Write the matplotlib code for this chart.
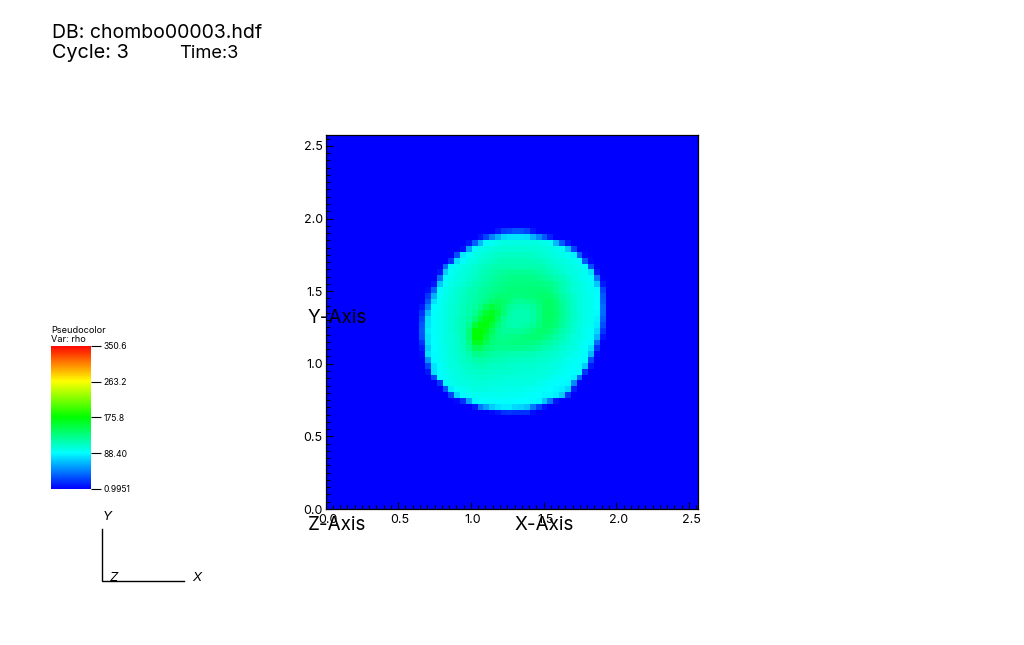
import numpy as np
import matplotlib
matplotlib.use("Agg")
import matplotlib.pyplot as plt
from matplotlib.colors import LinearSegmentedColormap
from matplotlib.ticker import AutoMinorLocator
from matplotlib.transforms import ScaledTranslation

W, H = 1024, 645
plt.rcParams['font.family'] = ['Inter', 'DejaVu Sans']

VMIN, VMAX = 0.9951, 350.6
CBAR_TICKS = [0.9951, 88.40, 175.8, 263.2, 350.6]
CBAR_LABELS = ['0.9951', '88.40', '175.8', '263.2', '350.6']
AXIS_TICKS = [0.0, 0.5, 1.0, 1.5, 2.0, 2.5]
AXIS_LABELS = ['0.0', '0.5', '1.0', '1.5', '2.0', '2.5']
X_MAX, Y_MAX = 2.562, 2.575
N_CELLS = 64
BACKGROUND = 1.0
DISC_START = 16

# rho, top row first, 32 x 32 cells around the disc
DISC = [
[1]*13+[10,22,25,30,30,25,8],
[1]*10+[8,25,45,62,76,80,80,80,78,62,48,32,12],
[1]*8+[8,35,65,88,93,96,98,98,98,98,98,98,98,96,93,65,32,10],
[1]*7+[7,58,88,96,99,102,103,104,104,104,104,104,104,103,102,99,96,93,68,25],
[1]*6+[28,82,90,97,100,104,106,108,109,109,109,109,109,108,106,104,102,99,96,93,85,35,5],
[1]*5+[20,78,90,97,100,104,107,110,112,113,113,113,113,113,112,111,109,106,103,100,97,94,90,32,5],
[1]*4+[38,86,93,98,102,105,109,112,115,116,117,117,117,117,117,116,115,113,110,106,103,100,97,94,88,28,3],
[1]*3+[8,72,92,97,100,104,107,111,115,118,121,123,125,125,125,125,123,121,118,114,110,105,102,98,96,93,80,10],
[1]*3+[38,88,95,98,102,106,110,114,118,121,124,127,129,130,130,130,129,127,125,121,116,111,105,100,96,93,88,42,3],
[1]*2+[8,70,92,97,100,104,108,113,117,121,124,127,130,132,133,133,133,133,133,132,129,123,116,110,104,100,96,92,70,10],
[1]+[6,35,88,95,99,104,108,113,117,121,124,127,130,133,134,134,134,134,135,136,136,133,125,117,110,103,100,96,93,88,25],
[1]+[20,62,92,96,101,105,110,114,118,122,126,131,136,137,135,133,133,134,136,138,140,138,131,121,113,105,101,97,94,89,32],
[1]+[30,78,92,97,102,106,111,115,119,124,131,140,143,140,133,127,125,126,130,135,141,143,136,125,115,107,102,97,94,89,35],
[8,45,88,94,98,103,107,112,116,122,132,145,154,148,137,125,120,118,119,123,132,141,143,137,126,116,107,102,97,94,89,38],
[18,65,90,95,99,103,107,112,118,128,143,160,165,153,134,121,117,115,117,121,130,141,144,138,127,117,108,102,97,94,88,38],
[25,78,90,95,99,103,108,113,121,136,156,170,168,146,126,118,116,116,117,121,130,141,143,137,126,116,107,101,97,93,85,35],
[30,80,90,95,99,103,108,114,127,158,170,172,156,136,123,118,117,118,120,125,133,141,141,134,123,114,106,100,96,93,82,28],
[32,82,90,94,98,103,108,115,134,172,176,166,146,130,123,123,123,125,128,133,138,139,135,127,118,111,104,99,95,92,75,20],
[30,80,90,94,98,102,107,114,136,174,175,156,138,130,127,129,131,133,135,137,137,133,127,120,113,107,102,98,95,90,65,8],
[18,78,89,94,98,102,106,113,130,164,166,148,136,131,131,132,133,133,133,132,130,125,120,115,110,105,100,96,92,88,38,1],
[10,72,89,93,97,101,106,112,124,145,146,136,130,127,127,127,127,127,126,124,121,117,113,110,106,102,98,94,90,80,20,1],
[5,78,88,93,97,101,105,110,117,129,129,126,121,119,118,117,116,115,115,113,111,109,107,105,102,98,95,92,88,65,5,1],
[1,52,88,93,97,100,103,108,112,118,119,118,115,113,112,111,110,110,109,108,107,106,104,102,98,95,93,91,88,28,1,1],
[1,25,80,91,96,100,102,105,108,111,113,112,110,109,108,107,107,106,105,105,104,103,101,99,96,93,91,90,72,10,1,1],
[1,8,78,89,94,97,100,103,105,107,108,108,107,106,105,105,104,104,103,103,102,101,99,96,94,92,91,90,20,1,1,1],
[1,1,25,88,92,96,98,100,103,104,105,105,104,104,103,102,102,101,101,100,100,99,96,93,91,90,85,38,1,1,1,1],
[1,1,1,20,88,94,97,99,100,101,102,101,101,100,100,99,99,99,98,98,96,94,91,90,88,86,48,3,1,1,1,1],
[1,1,1,1,30,82,92,95,97,98,98,98,97,97,97,96,96,96,95,94,92,90,89,87,84,76,12,1,1,1,1,1],
[1]*5+[25,75,88,92,94,94,94,94,94,94,93,93,93,92,90,89,87,86,84,72,20],
[1]*6+[4,18,58,86,89,90,90,90,90,90,89,89,89,88,86,70,42,8],
[1]*9+[10,42,58,72,80,82,82,76,74,68,42,24,8],
[1]*12+[4,10,18,20,18,18,18,6],
]

grid = np.full((N_CELLS, N_CELLS), BACKGROUND)
disc = np.array([(r + [1]*32)[:32] for r in DISC], dtype=float)
grid[DISC_START:DISC_START+32, DISC_START:DISC_START+32] = disc

cmap = LinearSegmentedColormap.from_list(
    'visit_hot', ['#0000ff', '#00ffff', '#00ff00', '#ffff00', '#ff0000'], N=256)

fig = plt.figure(figsize=(W/100, H/100), dpi=100, facecolor='white')

def box(left, top, right, bottom):
    return [left/W, 1-bottom/H, (right-left)/W, (bottom-top)/H]

# main plot
ax = fig.add_axes(box(325.5, 135, 698, 509))
ax.imshow(grid, cmap=cmap, vmin=VMIN, vmax=VMAX, origin='upper',
          extent=(0, X_MAX, 0, Y_MAX), aspect='auto', interpolation='nearest')
ax.set_xlim(0, X_MAX)
ax.set_ylim(0, Y_MAX)
ax.set_xticks(AXIS_TICKS, AXIS_LABELS)
ax.set_yticks(AXIS_TICKS, AXIS_LABELS)
ax.xaxis.set_minor_locator(AutoMinorLocator(10))
ax.yaxis.set_minor_locator(AutoMinorLocator(10))
ax.tick_params(which='major', direction='in', length=5.2, width=0.8, color='k',
               labelsize=9, pad=3.8, top=False, right=False)
ax.tick_params(axis='y', which='major', pad=2)
ax.tick_params(which='minor', direction='in', length=2.9, width=0.8, color='k',
               top=False, right=False)
for lab in ax.get_xticklabels():
    lab.set_transform(lab.get_transform() + ScaledTranslation(2/100, 0, fig.dpi_scale_trans))
for s in ax.spines.values():
    s.set_linewidth(0.9)
    s.set_color('k')

# colorbar
cax = fig.add_axes(box(51, 346, 91, 489))
cax.imshow(np.linspace(VMAX, VMIN, 256)[:, None], cmap=cmap, vmin=VMIN, vmax=VMAX,
           extent=(0, 1, VMIN, VMAX), aspect='auto')
cax.set_xticks([])
cax.yaxis.tick_right()
cax.set_yticks(CBAR_TICKS, CBAR_LABELS)
cax.tick_params(axis='y', direction='out', length=7, width=0.8, labelsize=6.2, pad=2)
for s in cax.spines.values():
    s.set_visible(False)

# overlay in pixel coordinates for annotation text and the triad
ov = fig.add_axes([0, 0, 1, 1], facecolor='none')
ov.set_xlim(0, W)
ov.set_ylim(H, 0)
ov.axis('off')

def t(x, y, s, size, **kw):
    kw.setdefault('ha', 'left')
    kw.setdefault('va', 'baseline')
    ov.text(x, y, s, fontsize=size, color='k', **kw)

t(52, 38, 'DB: chombo00003.hdf', 14)
t(52, 58, 'Cycle: 3', 14.3)
t(179, 58, 'Time:3', 13.2)
t(51, 333, 'Pseudocolor', 6.6)
t(51, 342, 'Var: rho', 6.6)
t(308, 323, 'Y-Axis', 13.6)
t(308, 530, 'Z-Axis', 13.6)
t(514, 530, 'X-Axis', 13.6)
t(107, 520, 'Y', 9.5, ha='center', style='italic')
t(114, 581, 'Z', 9.5, ha='center', style='italic')
t(197, 581, 'X', 9.5, ha='center', style='italic')
ov.plot([102, 102, 184], [529, 580.5, 580.5], color='k', lw=1.0, solid_joinstyle='miter')

fig.savefig('out.png', dpi=100)
